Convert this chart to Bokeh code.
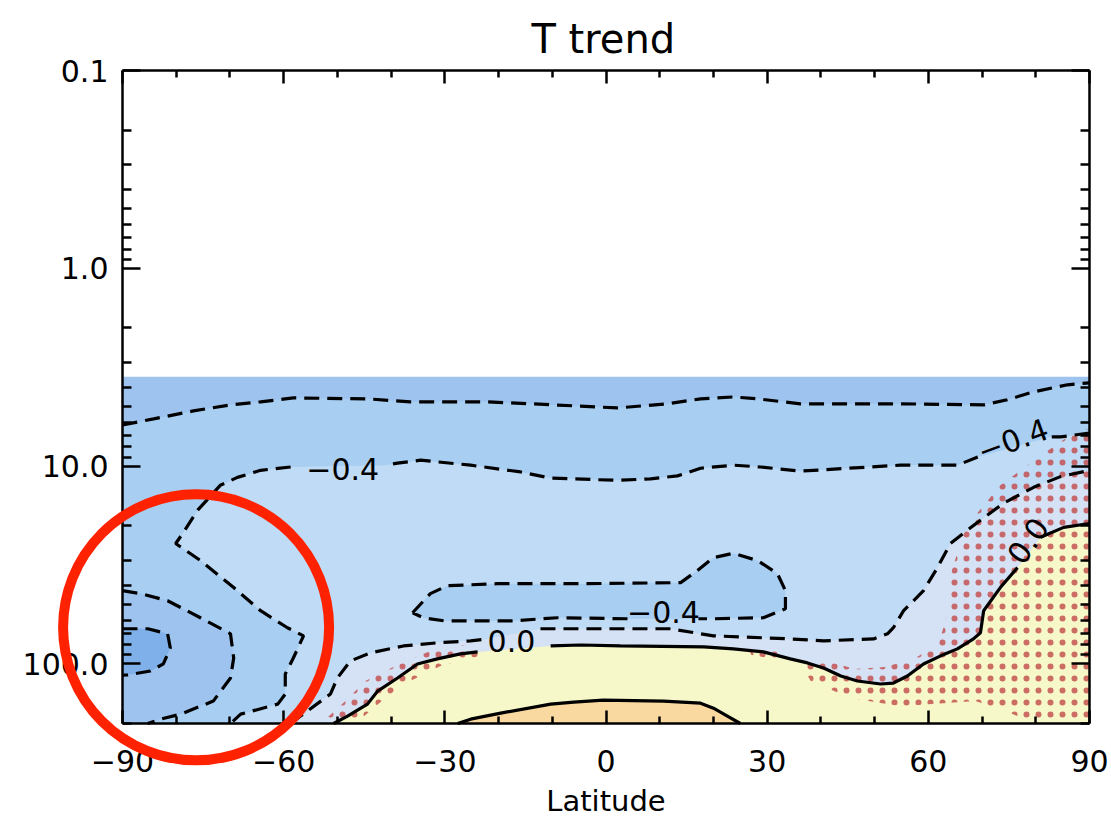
import numpy as np
from bokeh.plotting import figure
from bokeh.models import FixedTicker, LogAxis, LinearAxis, Range1d, Label
from bokeh.embed import file_html
from bokeh.resources import INLINE
from bokeh.core.properties import value

# ---------------- data (latitude in degrees, pressure in hPa) ----------------
DATA_TOP_P = 3.53
P_BOTTOM = 200.0

# -0.8 contour (upper, dashed)
c08_top_lat = [-90, -84.2, -76.8, -69.9, -64.3, -58.2, -44.4, -36.4, -22.1, -9.8, 2.1, 11.5, 17.6, 23.7, 28.2, 36.2, 54.8, 70.3, 74.7, 79.6, 85.9, 90]
c08_top_p = [6.19, 5.77, 5.26, 4.90, 4.73, 4.52, 4.57, 4.73, 4.73, 4.90, 5.08, 4.84, 4.57, 4.47, 4.57, 4.84, 4.84, 4.90, 4.62, 4.21, 3.88, 3.79]

# -0.4 contour (long, dashed, wraps round the polar region); nan = label gap
c04_lat = [90, 84.6, 82.7, np.nan, 69.2, 65.4, 54.8, 45.0, 36.2, 28.8, 23.7, 17.6, 13.3, 8.3, 2.1, -10.3, -15.9, -25.2, -34.5, -38.8, -41.0, np.nan,
           -58.7, -64.3, -68.6, -71.8, -76.0, -78.8, -80.1, -75.5, -69.3, -64.3, -59.3, -56.3, -58.2, -59.7, -59.7, -61.1, -68.0, -69.9]
c04_p = [6.80, 7.12, 7.12, np.nan, 9.0, 9.89, 9.89, 10.25, 10.6, 10.1, 9.89, 10.25, 11.2, 11.6, 11.8, 11.5, 10.7, 9.89, 9.33, 9.66, 9.89, np.nan,
         10.1, 10.5, 11.4, 12.5, 16.7, 21.9, 24.6, 30.0, 41.1, 53.8, 65.6, 72.1, 93.3, 112.4, 142.0, 159.6, 179.4, 200.0]

# -0.8 contour (south polar, dashed)
c08_pol_lat = [-90, -86.6, -81.6, -75.5, -69.9, -69.3, -69.9, -73.1, -79.2, -82.9, -85.3]
c08_pol_p = [42.6, 44.1, 47.9, 58.4, 70.4, 93.3, 117.8, 154.1, 179.4, 190.2, 200.0]

# -1.2 contour (south polar, dashed)
c12_pol_lat = [-90, -85.3, -81.6, -81.1, -82.4, -84.8, -89.1, -90]
c12_pol_p = [66.4, 66.4, 70.4, 83.0, 100.0, 108.5, 113.7, 114.0]

# -0.4 closed contour (tropical island, dashed); nan = label gap
isl_lat = [-36.0, -32.7, -29.5, -20.2, -4.7, 13.9, 17.0, 20.0, 23.7, 28.2, 31.9, 33.4, 33.4, 29.3, 20.0, 17.2, np.nan, 4.0, -9.0, -17.2, -30.2, -34.0, -36.0]
isl_p = [55.1, 44.1, 40.2, 39.3, 39.3, 38.8, 33.7, 29.0, 27.6, 30.0, 34.9, 42.6, 52.6, 58.4, 59.1, 59.1, np.nan, 59.1, 58.4, 60.5, 60.5, 58.4, 55.1]

# 0.0 contour (dashed)
c00_lat = [-58.7, -55.6, -51.3, -50.0, -47.6, -43.8, -37.7, -31.4, -25.2, -22.1, np.nan, -12.2, -9.8, 12.0, 20.0, 34.3, 40.5, 49.8, 52.4, 53.5, 55.4, 59.1, 61.7, 64.1, 69.2, 74.0, 79.6, 84.6, 90]
c00_p = [200.0, 173.2, 142.0, 117.8, 96.6, 87.9, 81.1, 78.2, 76.4, 74.7, np.nan, 66.4, 66.4, 66.4, 72.1, 74.7, 76.4, 74.7, 70.4, 65.6, 53.8, 42.6, 32.6, 24.6, 19.2, 15.4, 12.8, 11.3, 10.5]

# positive contour (solid)
cp1_lat = [-50.7, -48.1, -44.4, -42.5, -38.8, -35.1, -31.4, -27.1, -23.9, np.nan, -10.3, -4.7, 2.7, 18.2, 23.7, 29.3, 34.3, 37.5, 40.5, 43.7, 46.8, 51.1, 53.5, 56.1, 59.1, 62.3, 65.4, 68.4, 69.7, 70.3, 73.4, 76.6, np.nan, 80.9, 85.2, 90]
cp1_p = [200.0, 183.6, 159.6, 137.1, 117.8, 100.0, 94.3, 88.9, 86.9, np.nan, 81.1, 80.2, 81.1, 82.0, 83.9, 86.9, 94.3, 98.8, 104.8, 115.1, 122.0, 126.3, 124.9, 115.1, 100.0, 91.0, 83.9, 74.7, 69.6, 53.8, 41.1, 32.6, np.nan, 22.9, 20.4, 19.5]

# higher positive contour (solid, orange core)
cp2_lat = [-27.6, -25.2, -19.6, -10.3, -6.0, -0.5, 10.7, 17.6, 20.0, 22.6, 25.0]
cp2_p = [200.0, 190.2, 177.3, 159.6, 156.0, 152.4, 154.1, 157.8, 167.3, 183.6, 200.0]

# significance stippling regions
stip1_lat = [90, 85.9, 80.3, 73.4, 68.8, 66.4, 64.1, 63.2, 61.9, 57.6, 52.0, 46.4, 40.9, 36.2, 38.1, 45.5, 54.8, 68.8, 75.3, 80.0, 90]
stip1_p = [6.41, 7.12, 9.1, 12.5, 17.7, 22.4, 35.7, 60.5, 79.1, 93.3, 103.6, 106.0, 96.6, 98.8, 122.0, 148.8, 163.4, 154.1, 177.3, 200.0, 200.0]
stip2_lat = [-52.2, -48.5, -44.8, -39.2, -32.7, -25.2, -23.4, -30.8, -38.3, -42.9, -46.6, -51.3]
stip2_p = [190.2, 154.1, 122.0, 102.4, 85.9, 79.1, 91.0, 102.4, 129.3, 163.4, 200.0, 200.0]
stip3_lat = [26.5, 32.5, 32.9, 27.0]
stip3_p = [81.1, 83.9, 96.6, 89.9]

# contour labels
lab_text = ["\u22120.4", "\u22120.4", "\u22120.4", "0.0", "0.0"]
lab_lat = [-49.0, 75.7, 10.7, -17.6, 78.5]
lab_p = [10.35, 7.38, 54.5, 76.4, 23.8]
lab_angle_deg = [0, 20, 0, 0, 55]

x_major = [-90, -60, -30, 0, 30, 60, 90]
x_minor = [-80, -70, -50, -40, -20, -10, 10, 20, 40, 50, 70, 80]
y_major = [0.1, 1, 10, 100]
y_major_labels = ["0.1", "1.0", "10.0", "100.0"]
y_minor = [m * d for d in (0.1, 1, 10) for m in range(2, 10)] + [200]

TITLE = "T trend"
XLABEL = "Latitude"

# highlight circle (annotation): centre in data units
circ_lat, circ_p = -76.3, 65.3

# colours
C_A = "#9DC3EE"
C_B = "#A8CEF2"
C_C = "#C0DBF5"
C_D = "#D5E1F4"
C_Y = "#F7F8C9"
C_O = "#FAD9A1"
C_DARK = "#80B0E9"
FONT = "DejaVu Sans"

# ---------------- layout ----------------
W, H = 1111, 821
AX_L, AX_R, AX_T, AX_B = 122, 1089, 70, 723   # axis box in page pixels
LAT0, LAT1 = -90.0, 90.0
P_TOP = 0.1
px_per_deg = (AX_R - AX_L) / (LAT1 - LAT0)
px_per_dec = (AX_B - AX_T) / np.log10(P_BOTTOM / P_TOP)
# the plotting frame covers the whole page; the axes are pinned to the data box
x_start = LAT0 - AX_L / px_per_deg
x_end = LAT1 + (W - AX_R) / px_per_deg
y_start = P_BOTTOM * 10 ** ((H - AX_B) / px_per_dec)
y_end = P_TOP / 10 ** (AX_T / px_per_dec)
title_p = P_TOP / 10 ** ((AX_T - 38) / px_per_dec)

p = figure(width=W, height=H, y_axis_type="log",
           x_range=Range1d(x_start, x_end), y_range=Range1d(y_start, y_end),
           output_backend="svg", toolbar_location=None,
           min_border_left=0, min_border_right=0, min_border_top=0, min_border_bottom=0,
           background_fill_color="white", border_fill_color="white")
p.title.visible = False
p.xgrid.visible = False
p.ygrid.visible = False
p.outline_line_color = None


def nonan(a):
    return [v for v in a if not (isinstance(v, float) and np.isnan(v))]


def fill_below(lat, pr, color, closing):
    xs = nonan(lat) + [c[0] for c in closing]
    ys = nonan(pr) + [c[1] for c in closing]
    p.patch(xs, ys, fill_color=color, line_color=None)


# filled bands (painter's order)
p.patch([LAT0, LAT1, LAT1, LAT0], [DATA_TOP_P, DATA_TOP_P, P_BOTTOM, P_BOTTOM], fill_color=C_A, line_color=None)
fill_below(c08_top_lat, c08_top_p, C_B, [(LAT1, P_BOTTOM), (LAT0, P_BOTTOM)])
fill_below(c08_pol_lat, c08_pol_p, C_A, [(LAT0, P_BOTTOM)])
fill_below(c12_pol_lat, c12_pol_p, C_DARK, [])
fill_below(c04_lat, c04_p, C_C, [(LAT1, P_BOTTOM)])
fill_below(isl_lat, isl_p, C_B, [])
fill_below(c00_lat, c00_p, C_D, [(LAT1, P_BOTTOM)])
fill_below(cp1_lat, cp1_p, C_Y, [(LAT1, P_BOTTOM)])
fill_below(cp2_lat, cp2_p, C_O, [])

# stippling
for la, pr in ((stip1_lat, stip1_p), (stip2_lat, stip2_p), (stip3_lat, stip3_p)):
    p.patch(la, pr, fill_alpha=0, line_color=None, hatch_pattern="dot",
            hatch_color="#C24A4A", hatch_scale=12, hatch_weight=2.0, hatch_alpha=0.8)

# contour lines
dash = "15 8"
for la, pr in ((c08_top_lat, c08_top_p), (c04_lat, c04_p), (c08_pol_lat, c08_pol_p),
               (c12_pol_lat, c12_pol_p), (isl_lat, isl_p), (c00_lat, c00_p)):
    p.line(la, pr, line_color="black", line_width=3.2, line_dash=dash)
for la, pr in ((cp1_lat, cp1_p), (cp2_lat, cp2_p)):
    p.line(la, pr, line_color="black", line_width=3.2)

p.text(x=lab_lat, y=lab_p, text=lab_text, angle=[np.deg2rad(a) for a in lab_angle_deg],
       text_align="center", text_baseline="middle", text_color="black",
       text_font=value(FONT), text_font_size=value("30px"))

# axes
x_labels = {v: (("\u2212" + str(-v)) if v < 0 else str(v)) for v in x_major}
y_labels = dict(zip(y_major, y_major_labels))


def style_axis(ax, major_in, minor_in):
    ax.axis_line_width = 2.5
    ax.axis_line_color = "black"
    ax.major_tick_in = major_in
    ax.major_tick_out = 0
    ax.minor_tick_in = minor_in
    ax.minor_tick_out = 0
    ax.major_tick_line_width = 2.5
    ax.minor_tick_line_width = 2.5
    ax.major_tick_line_color = "black"
    ax.minor_tick_line_color = "black"
    ax.major_label_text_font = FONT
    ax.major_label_text_font_size = "30px"
    ax.major_label_text_color = "black"


xa = p.xaxis[0]
xa.ticker = FixedTicker(ticks=x_major, minor_ticks=x_minor)
xa.major_label_overrides = x_labels
xa.fixed_location = P_BOTTOM
xa.bounds = (LAT0, LAT1)
xa.axis_label = XLABEL
xa.axis_label_text_font = FONT
xa.axis_label_text_font_size = "29px"
xa.axis_label_text_font_style = "normal"
xa.axis_label_text_color = "black"
xa.axis_label_standoff = 9
xa.major_label_standoff = 26
style_axis(xa, 13, 7)

ya = p.yaxis[0]
ya.ticker = FixedTicker(ticks=y_major, minor_ticks=y_minor)
ya.major_label_overrides = y_labels
ya.fixed_location = LAT0
ya.bounds = (P_TOP, P_BOTTOM)
ya.major_label_standoff = 14
style_axis(ya, 18, 9)

top = LinearAxis(ticker=FixedTicker(ticks=x_major, minor_ticks=x_minor), bounds=(LAT0, LAT1),
                 fixed_location=P_TOP,
                 major_label_overrides={v: "" for v in x_major}, major_label_standoff=0)
style_axis(top, 13, 7)
p.add_layout(top, "above")
right = LogAxis(ticker=FixedTicker(ticks=y_major, minor_ticks=y_minor), bounds=(P_TOP, P_BOTTOM),
                fixed_location=LAT1,
                major_label_overrides={v: "" for v in y_major}, major_label_standoff=0)
style_axis(right, 18, 9)
p.add_layout(right, "right")

# title (drawn as a label centred over the data box)
p.add_layout(Label(x=-0.5, y=title_p, text=TITLE, text_align="center", text_baseline="alphabetic",
                   text_font=FONT, text_font_size="40px", text_color="black"))

# red highlight circle, drawn above the axes
circ = p.scatter(x=[circ_lat], y=[circ_p], marker="circle", size=266,
                 fill_alpha=0, line_color="#FF2200", line_width=10)
circ.level = "overlay"

open("out.html", "w").write(file_html(p, INLINE))
